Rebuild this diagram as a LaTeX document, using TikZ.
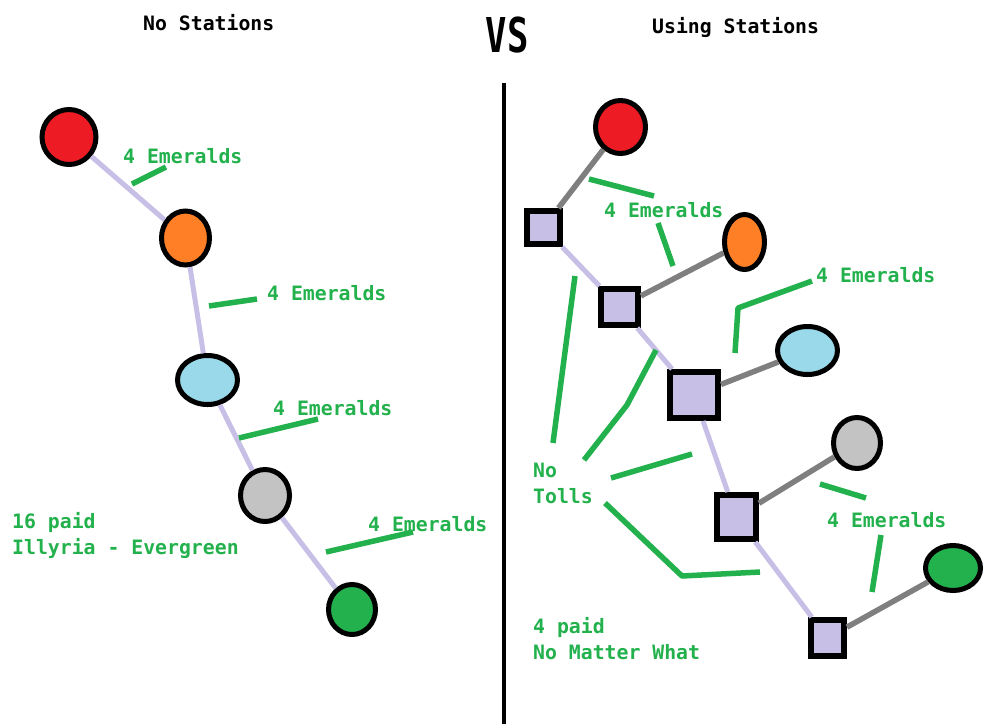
\documentclass[tikz,border=0pt]{standalone}
\usepackage{fontspec}
\setmonofont{DejaVu Sans Mono}
\usetikzlibrary{shapes.geometric}

\begin{document}
\begin{tikzpicture}[x=1pt,y=-1pt]
      \definecolor{townred}{HTML}{ED1C24}
      \definecolor{townorange}{HTML}{FF7F27}
      \definecolor{townblue}{HTML}{99D9EA}
      \definecolor{towngray}{HTML}{C3C3C3}
      \definecolor{towngreen}{HTML}{22B14C}
      \definecolor{railcolor}{HTML}{C8BFE7}
      \definecolor{spurcolor}{HTML}{7F7F7F}
      \colorlet{notecolor}{towngreen}
      \tikzset{town/.style={ellipse,draw=black,line width=5pt,inner sep=0pt},
               station/.style={rectangle,draw=black,line width=6pt,fill=railcolor,inner sep=0pt},
               rail/.style={draw=railcolor,line width=5pt},
               spur/.style={draw=spurcolor,line width=5.5pt},
               note/.style={draw=notecolor,line width=5.5pt,line join=round},
               price/.style={text=notecolor,anchor=base west,inner sep=0pt,align=left,
                 font=\fontsize{19.8}{26}\selectfont\ttfamily\bfseries},
               heading/.style={anchor=base west,inner sep=0pt,
                 font=\fontsize{19.8}{26}\selectfont\ttfamily\bfseries}}

      \useasboundingbox (0,0) rectangle (1005,724);

      \node[heading] (lefttitle) at (143,30) {No Stations};
      \node[heading] (righttitle) at (652,33) {Using Stations};
      \node[anchor=base,inner sep=0pt,xscale=0.74,
            font=\fontsize{48}{48}\selectfont\ttfamily\bfseries] (vs) at (507,52) {VS};
      \draw[line width=4.5pt] (504,83) -- (504,724);

      % no stations
      \node[town,fill=townred,minimum width=54pt,minimum height=55pt] (lred) at (69,137) {};
      \node[town,fill=townorange,minimum width=48pt,minimum height=54pt] (lorange) at (185.5,238) {};
      \node[town,fill=townblue,minimum width=60pt,minimum height=49pt] (lblue) at (207.5,380) {};
      \node[town,fill=towngray,minimum width=49pt,minimum height=52pt] (lgray) at (265,495.5) {};
      \node[town,fill=towngreen,minimum width=47pt,minimum height=50pt] (lgreen) at (352,609.5) {};
      \draw[rail] (lred) -- (lorange);
      \draw[rail] (lorange) -- (lblue);
      \draw[rail] (lblue) -- (lgray);
      \draw[rail] (lgray) -- (lgreen);

      \draw[note] (132,184) -- (166,167);
      \draw[note] (209,306) -- (257,299);
      \draw[note] (239,438) -- (318,419);
      \draw[note] (326,552) -- (413,532);
      \node[price] (lcost1) at (123,163) {4 Emeralds};
      \node[price] (lcost2) at (267,300) {4 Emeralds};
      \node[price] (lcost3) at (273,415) {4 Emeralds};
      \node[price] (lcost4) at (368,531) {4 Emeralds};
      \node[price] (ltotal) at (12,554) {16 paid\\Illyria - Evergreen};

      % using stations
      \node[town,fill=townred,minimum width=50pt,minimum height=53pt] (rred) at (620.5,127) {};
      \node[town,fill=townorange,minimum width=40pt,minimum height=55pt] (rorange) at (744.5,242) {};
      \node[town,fill=townblue,minimum width=60pt,minimum height=48pt] (rblue) at (807.5,350.5) {};
      \node[town,fill=towngray,minimum width=47pt,minimum height=51pt] (rgray) at (857,443) {};
      \node[town,fill=towngreen,minimum width=55pt,minimum height=45pt] (rgreen) at (953,568) {};
      \node[station,minimum width=33pt,minimum height=33pt] (st1) at (543.5,227.5) {};
      \node[station,minimum width=37pt,minimum height=36pt] (st2) at (619.5,307) {};
      \node[station,minimum width=48pt,minimum height=46pt] (st3) at (694,395) {};
      \node[station,minimum width=39pt,minimum height=44pt] (st4) at (736.5,517) {};
      \node[station,minimum width=33pt,minimum height=36pt] (st5) at (827.5,638) {};
      \draw[rail] (st1) -- (st2);
      \draw[rail] (st2) -- (st3);
      \draw[rail] (st3) -- (st4);
      \draw[rail] (st4) -- (st5);
      \draw[spur] (st1) -- (rred);
      \draw[spur] (st2) -- (rorange);
      \draw[spur] (st3) -- (rblue);
      \draw[spur] (st4) -- (rgray);
      \draw[spur] (st5) -- (rgreen);

      \draw[note] (589,179) -- (654,196);
      \draw[note] (658,223) -- (673,266);
      \draw[note] (812,281) -- (738,308) -- (735,353);
      \draw[note] (820,484) -- (866,498);
      \draw[note] (881,535) -- (872,592);
      \draw[note] (575,276) -- (553,443);
      \draw[note] (656,350) -- (627,405) -- (584,460);
      \draw[note] (611,478) -- (692,454);
      \draw[note] (605,503) -- (682,576) -- (760,572);
      \node[price] (rcost1) at (604,217) {4 Emeralds};
      \node[price] (rcost2) at (816,282) {4 Emeralds};
      \node[price] (rcost3) at (827,527) {4 Emeralds};
      \node[price] (tolls) at (533,503) {No\\Tolls};
      \node[price] (rtotal) at (533,659) {4 paid\\No Matter What};
\end{tikzpicture}
\end{document}
